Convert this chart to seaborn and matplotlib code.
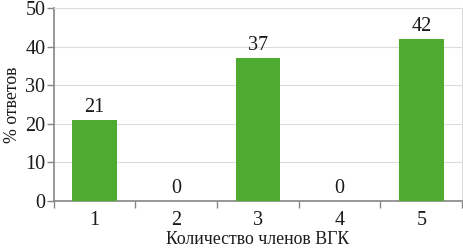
import matplotlib
matplotlib.use("Agg")
import matplotlib.pyplot as plt
import pandas as pd
import seaborn as sns

categories = ["1", "2", "3", "4", "5"]
values = [21, 0, 37, 0, 42]
y_ticks = [0, 10, 20, 30, 40, 50]

BAR_COLOR = "#4eab2f"
AXIS_COLOR = "#868686"
GRID_COLOR = "#dcdcdc"
TEXT_COLOR = "#1a1a1a"
NUM_FS = 14.5
LABEL_FS = 12.8

sns.set_theme(style="white")
plt.rcParams["font.family"] = ["Liberation Serif", "DejaVu Serif"]

df = pd.DataFrame({"members": categories, "pct": values})

fig = plt.figure(figsize=(4.64, 2.50), dpi=100)
ax = fig.add_axes([0.116, 0.196, 0.88, 0.772])

sns.barplot(data=df, x="members", y="pct", color=BAR_COLOR, width=0.55,
            saturation=1, linewidth=0, ax=ax, zorder=3)

for i, v in enumerate(values):
    ax.text(i, v + 0.8, str(v), ha="center", va="bottom", fontsize=NUM_FS, color=TEXT_COLOR)

ax.set_ylim(0, 50)
ax.set_xlim(-0.5, len(categories) - 0.5)
ax.set_yticks(y_ticks)
ax.yaxis.grid(True, color=GRID_COLOR, linewidth=0.8, zorder=0)
ax.set_axisbelow(True)

# x ticks sit between categories
ax.set_xticks([i + 0.5 for i in range(-1, len(categories))], minor=True)
ax.tick_params(axis="x", which="minor", length=5, color=AXIS_COLOR, width=1, direction="out", bottom=True)
ax.tick_params(axis="x", which="major", length=0, labelsize=NUM_FS, pad=7, colors=TEXT_COLOR)
ax.tick_params(axis="y", length=5, color=AXIS_COLOR, width=1, direction="out", left=True,
               labelsize=NUM_FS, pad=1, labelcolor=TEXT_COLOR)

for side in ["left", "bottom"]:
    ax.spines[side].set_color(AXIS_COLOR)
    ax.spines[side].set_linewidth(1.2)
for side in ["top", "right"]:
    ax.spines[side].set_color(GRID_COLOR)
    ax.spines[side].set_linewidth(0.8)

ax.set_xlabel("Количество членов ВГК", fontsize=LABEL_FS, labelpad=1, color=TEXT_COLOR)
ax.set_ylabel("% ответов", fontsize=LABEL_FS, labelpad=3, color=TEXT_COLOR)

fig.savefig("out.png", dpi=100)
